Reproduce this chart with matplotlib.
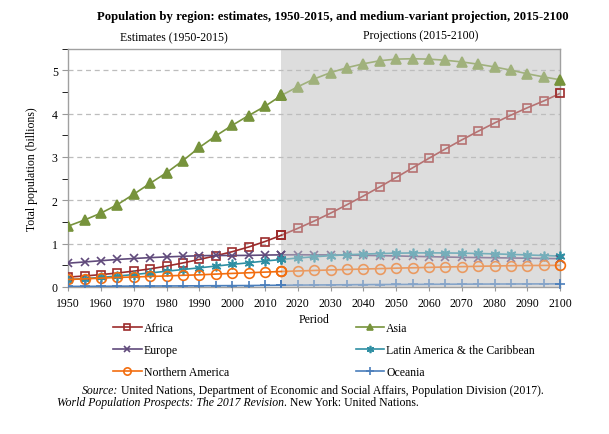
import numpy as np
import matplotlib
matplotlib.use("Agg")
import matplotlib.pyplot as plt
from matplotlib.colors import to_rgb
from matplotlib.ticker import MultipleLocator

plt.rcParams['font.family'] = ['Liberation Serif', 'DejaVu Serif']

# Population in billions, 1950-2100, 5-year steps (medium variant after 2015)
years = list(range(1950, 2101, 5))

africa = [0.228, 0.254, 0.285, 0.322, 0.366, 0.418, 0.481, 0.555, 0.635, 0.721,
          0.814, 0.922, 1.049, 1.194, 1.353, 1.522, 1.704, 1.899, 2.100, 2.310,
          2.528, 2.749, 2.970, 3.186, 3.394, 3.594, 3.785, 3.966, 4.136, 4.293, 4.468]
asia = [1.405, 1.546, 1.705, 1.900, 2.142, 2.393, 2.638, 2.917, 3.221, 3.487,
        3.730, 3.955, 4.170, 4.420, 4.620, 4.800, 4.947, 5.060, 5.150, 5.220,
        5.257, 5.266, 5.256, 5.231, 5.192, 5.140, 5.076, 5.001, 4.918, 4.845, 4.780]
europe = [0.549, 0.577, 0.606, 0.635, 0.657, 0.677, 0.694, 0.708, 0.721, 0.727,
          0.726, 0.729, 0.736, 0.741, 0.743, 0.741, 0.739, 0.735, 0.730, 0.723,
          0.716, 0.707, 0.699, 0.691, 0.684, 0.679, 0.674, 0.669, 0.664, 0.658, 0.653]
latam = [0.169, 0.194, 0.220, 0.252, 0.287, 0.324, 0.363, 0.403, 0.442, 0.482,
         0.522, 0.558, 0.599, 0.634, 0.668, 0.697, 0.722, 0.743, 0.759, 0.771,
         0.780, 0.785, 0.787, 0.785, 0.780, 0.773, 0.763, 0.752, 0.739, 0.726, 0.712]
n_america = [0.173, 0.187, 0.204, 0.219, 0.231, 0.242, 0.255, 0.269, 0.280, 0.297,
             0.313, 0.328, 0.343, 0.357, 0.369, 0.381, 0.393, 0.404, 0.414, 0.424,
             0.434, 0.443, 0.452, 0.461, 0.469, 0.477, 0.484, 0.491, 0.495, 0.497, 0.499]
oceania = [0.013, 0.014, 0.016, 0.018, 0.020, 0.022, 0.023, 0.025, 0.027, 0.029,
           0.031, 0.033, 0.037, 0.040, 0.043, 0.046, 0.048, 0.051, 0.054, 0.056,
           0.057, 0.059, 0.061, 0.063, 0.065, 0.066, 0.068, 0.069, 0.070, 0.071, 0.072]

regions = ["Africa", "Asia", "Europe", "Latin America & the Caribbean",
           "Northern America", "Oceania"]
series = [africa, asia, europe, latam, n_america, oceania]
colors = ["#9c2b2b", "#77933c", "#604a7b", "#2f8fa3", "#f26d0f", "#4a7ebb"]
markers = ["s", "^", "x", (6, 2, 0), "o", "+"]
msizes = [6, 6.5, 6, 7, 7, 7]
filled = [False, True, True, True, False, True]

split_year = 2015
shade = "#dddddd"

fig = plt.figure(figsize=(6.09, 4.35), dpi=100)
ax = fig.add_axes([0.112, 0.338, 0.808, 0.548])

ax.axvspan(split_year, 2100, color=shade, zorder=0, lw=0)

yrs = np.array(years)
est = yrs <= split_year
proj = yrs >= split_year


def fade(c, a=0.4):
    # projection part looks washed out towards the grey background
    c = np.array(to_rgb(c))
    g = np.array(to_rgb(shade))
    return tuple(c * (1 - a) + g * a)


handles = []
for name, vals, col, mk, ms, fl in zip(regions, series, colors, markers, msizes, filled):
    vals = np.array(vals)
    fc = col if fl else "none"
    h, = ax.plot(yrs[est], vals[est], color=col, lw=1.2, marker=mk, ms=ms,
                 mfc=fc, mec=col, mew=1.2, zorder=3, label=name)
    fcol = fade(col)
    ax.plot(yrs[proj], vals[proj], color=fcol, lw=1.2, marker=mk, ms=ms,
            mfc=fcol if fl else "none", mec=fcol, mew=1.2, zorder=2)
    # end points drawn at full colour, as in the original
    ax.plot(yrs[-1:], vals[-1:], ls="none", marker=mk, ms=ms, mfc=fc,
            mec=col, mew=1.2, zorder=4, clip_on=False)
    ax.plot(yrs[est][-1:], vals[est][-1:], ls="none", marker=mk, ms=ms, mfc=fc,
            mec=col, mew=1.2, zorder=4)
    handles.append(h)

ax.set_xlim(1950, 2100)
ax.set_ylim(0, 5.5)
ax.set_xticks(range(1950, 2101, 10))
ax.yaxis.set_major_locator(MultipleLocator(1))
ax.yaxis.set_minor_locator(MultipleLocator(0.5))
ax.tick_params(axis="both", labelsize=8.5, direction="out", color="#999999")
ax.tick_params(axis="y", which="both", length=4)
ax.tick_params(axis="x", length=3, pad=4)

for y in range(1, 6):
    ax.axhline(y, color="#bdbdbd", lw=0.9, ls=(0, (4, 3)), zorder=1)

for s in ax.spines.values():
    s.set_color("#a0a0a0")
    s.set_linewidth(1.0)

ax.set_xlabel("Period", fontsize=8.5, labelpad=3)
ax.set_ylabel("Total population (billions)", fontsize=8.5, labelpad=10)

fig.text(0.547, 0.962, "Population by region: estimates, 1950-2015, and medium-variant projection, 2015-2100",
         ha="center", va="center", fontsize=9.2, fontweight="bold")
fig.text(0.285, 0.913, "Estimates (1950-2015)", ha="center", va="center", fontsize=8.5)
fig.text(0.69, 0.918, "Projections (2015-2100)", ha="center", va="center", fontsize=8.5)

order = [0, 2, 4, 1, 3, 5]
fig.legend([handles[i] for i in order], [regions[i] for i in order],
           ncol=2, loc="upper left", bbox_to_anchor=(0.186, 0.258),
           frameon=False, fontsize=8.5, handlelength=2.4, handletextpad=0.2,
           columnspacing=10.7, labelspacing=0.85, borderpad=0, borderaxespad=0,
           markerscale=0.75)

# source note: italic and upright pieces joined with annotate
s1 = fig.text(0.135, 0.095, "Source:", ha="left", va="baseline", fontsize=8.5, style="italic")
ax.annotate(" United Nations, Department of Economic and Social Affairs, Population Division (2017).",
            xy=(1, 0), xycoords=s1, ha="left", va="bottom", fontsize=8.5, annotation_clip=False)
s2 = fig.text(0.094, 0.066, "World Population Prospects: The 2017 Revision", ha="left",
              va="baseline", fontsize=8.5, style="italic")
ax.annotate(". New York: United Nations.", xy=(1, 0), xycoords=s2, ha="left", va="bottom",
            fontsize=8.5, annotation_clip=False)

fig.savefig("out.png", dpi=100)
